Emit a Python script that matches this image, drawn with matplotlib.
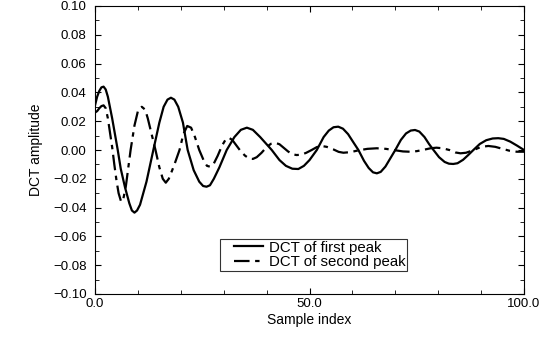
import matplotlib
matplotlib.use("Agg")
import matplotlib.pyplot as plt
from matplotlib.ticker import MultipleLocator, FuncFormatter
from matplotlib.legend_handler import HandlerLine2D

plt.rcParams['font.family'] = ['Liberation Sans', 'DejaVu Sans']

# First peak DCT (solid)
x_first = [0, 0.5, 1, 1.5, 2, 2.5, 3, 4, 5.3, 6, 7, 8, 8.6, 9.2, 9.8, 10.5, 12, 13.6,
           15, 16, 16.9, 17.7, 18.5, 19.4, 20.5, 21.6, 23, 24.3, 25.2, 26, 26.8, 27.7,
           29, 30.7, 32.5, 34, 35.4, 36.8, 38.5, 41.2, 43, 44.5, 46, 47.4, 48.7, 50,
           51.7, 53.3, 54.5, 55.6, 56.7, 57.8, 59, 60.3, 61.4, 62.7, 63.8, 64.8, 65.7,
           66.6, 67.7, 68.8, 70, 71.3, 72.5, 73.6, 74.6, 75.6, 76.8, 77.9, 78.9, 80.2,
           81.5, 82.5, 83.5, 84.5, 85.8, 87, 88.2, 89.7, 91.2, 92.7, 94, 95.3, 96.8,
           98.4, 100]
y_first = [0.031, 0.037, 0.041, 0.0435, 0.044, 0.042, 0.037, 0.022, 0.0, -0.013, -0.026,
           -0.037, -0.042, -0.0435, -0.042, -0.038, -0.022, 0.0, 0.019, 0.030, 0.035,
           0.0363, 0.035, 0.030, 0.019, 0.0, -0.014, -0.022, -0.025, -0.0255, -0.0245,
           -0.020, -0.012, 0.0, 0.009, 0.014, 0.0155, 0.014, 0.009, 0.0, -0.007, -0.011,
           -0.013, -0.0132, -0.011, -0.007, 0.0, 0.009, 0.0135, 0.0158, 0.0162, 0.0148,
           0.011, 0.005, 0.0, -0.0075, -0.0125, -0.0155, -0.0162, -0.0152, -0.0115,
           -0.006, 0.0, 0.007, 0.0115, 0.0135, 0.0139, 0.0128, 0.009, 0.004, 0.0, -0.005,
           -0.0083, -0.0095, -0.0097, -0.0092, -0.0068, -0.0035, 0.0, 0.0042, 0.0068,
           0.008, 0.0082, 0.0077, 0.0058, 0.003, 0.0]

# Second peak DCT (dash-dot)
x_second = [0, 0.5, 1, 1.5, 2, 2.5, 3, 3.5, 4, 4.5, 5, 5.5, 6.1, 6.6, 7.2, 8.3, 9.2, 10,
            10.9, 11.7, 12.3, 13.2, 14.1, 15, 15.8, 16.5, 17.2, 18.4, 19.7, 20.6, 21.5,
            22.4, 23.3, 24.3, 25.3, 26.1, 26.8, 27.6, 28.6, 29.6, 30.4, 31.2, 32, 33, 34,
            35, 36, 36.8, 37.7, 38.8, 40, 41, 42, 43, 44, 45, 46, 47, 48, 49.2, 50.5,
            51.7, 52.8, 54, 55.5, 56.8, 57.9, 59.5, 61.5, 63.5, 65.7, 67.8, 70, 71.8,
            73.4, 75, 76.7, 78.2, 79.6, 81, 82.6, 84, 85.2, 86.5, 88.3, 90, 91.7, 93.3,
            95, 96.6, 98.3, 100]
y_second = [0.026, 0.027, 0.029, 0.0305, 0.031, 0.029, 0.022, 0.012, 0.002, -0.010,
            -0.021, -0.030, -0.036, -0.034, -0.025, 0.0, 0.017, 0.027, 0.030, 0.028,
            0.022, 0.011, 0.0, -0.012, -0.020, -0.0227, -0.020, -0.011, 0.0, 0.011,
            0.0167, 0.0155, 0.009, 0.0, -0.007, -0.011, -0.0116, -0.010, -0.004, 0.003,
            0.007, 0.0085, 0.007, 0.003, -0.001, -0.004, -0.006, -0.0062, -0.005, -0.002,
            0.002, 0.0043, 0.005, 0.004, 0.0015, -0.001, -0.003, -0.0035, -0.0033, -0.002,
            0.0, 0.002, 0.0028, 0.0022, 0.0005, -0.0013, -0.0019, -0.0015, -0.0002,
            0.0008, 0.0012, 0.0008, -0.0002, -0.001, -0.0012, -0.0008, 0.0002, 0.0012,
            0.0016, 0.0012, 0.0, -0.0017, -0.0023, -0.0019, 0.0, 0.0022, 0.0028, 0.0022,
            0.0008, -0.0005, -0.0012, -0.0012]

labels = ["DCT of first peak", "DCT of second peak"]


def fmt(decimals):
    def f(v, pos):
        if abs(v) < 1e-9:
            v = 0.0
        s = f"{abs(v):.{decimals}f}"
        return ("\u2212" + s) if v < 0 else s
    return FuncFormatter(f)


fig = plt.figure(figsize=(5.54, 3.37), dpi=100)
ax = fig.add_axes([95/554, (337-294)/337, 429/554, 288/337])

l1, = ax.plot(x_first, y_first, color='black', lw=1.6, label=labels[0])
l2, = ax.plot(x_second, y_second, color='black', lw=1.6,
              linestyle=(0, (7, 2.5, 2, 2.5)), label=labels[1])

ax.set_xlim(0, 100)
ax.set_ylim(-0.10, 0.10)
ax.xaxis.set_major_locator(MultipleLocator(50))
ax.xaxis.set_minor_locator(MultipleLocator(10))
ax.yaxis.set_major_locator(MultipleLocator(0.02))
ax.yaxis.set_minor_locator(MultipleLocator(0.01))
ax.xaxis.set_major_formatter(fmt(1))
ax.yaxis.set_major_formatter(fmt(2))
ax.tick_params(which='both', direction='in', top=True, right=True, labelsize=9.5)
ax.tick_params(axis='y', pad=6)
ax.tick_params(axis='x', pad=3)
ax.tick_params(which='major', length=4)
ax.tick_params(which='minor', length=3)

ax.set_xlabel("Sample index", fontsize=10, labelpad=2)
ax.set_ylabel("DCT amplitude", fontsize=10, labelpad=7)

hm = {l1: HandlerLine2D(xpad=0.85), l2: HandlerLine2D(xpad=0.85)}
leg = ax.legend(loc='lower left', bbox_to_anchor=(0.291, 0.08), borderaxespad=0,
                fontsize=10.8, frameon=True, fancybox=False, handlelength=2.8,
                borderpad=0.1, labelspacing=0.05, handletextpad=0.4, handler_map=hm)
leg.get_frame().set_edgecolor('black')
leg.get_frame().set_linewidth(0.8)

fig.savefig("out.png", dpi=100)
